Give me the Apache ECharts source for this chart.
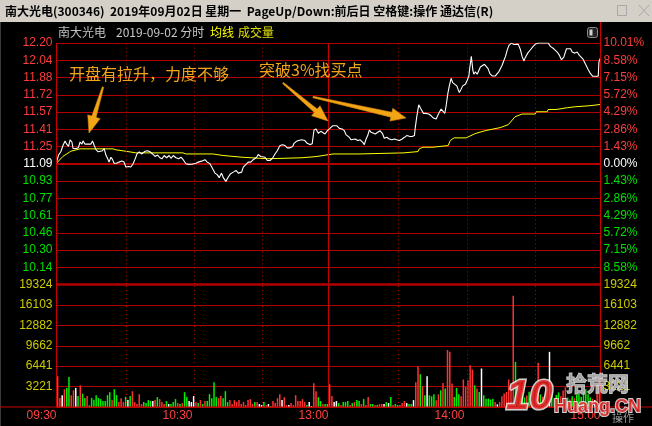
<!DOCTYPE html>
<html><head><meta charset="utf-8">
<script src="https://cdn.jsdelivr.net/npm/echarts/dist/echarts.min.js"></script>
<style>html,body{margin:0;padding:0;background:#000;}#c{width:652px;height:426px;}</style>
</head><body><div id="c"></div>
<script>
// ---------- data ----------
const prevClose = 11.09;
const priceTicks = ['9.98','10.14','10.30','10.46','10.61','10.77','10.93','11.09','11.25','11.41','11.57','11.72','11.88','12.04','12.20'];
const pctTicks = ['10.01%','8.58%','7.15%','5.72%','4.29%','2.86%','1.43%','0.00%','1.43%','2.86%','4.29%','5.72%','7.15%','8.58%','10.01%'];
const volTicks = ['0','3221','6441','9662','12882','16103','19324'];
const timeLabels = {0:'09:30',60:'10:30',120:'13:00',180:'14:00',240:'15:00'};
const gridMinutes = [30.7, 60.7, 90.7, 150.8, 181, 211];
const lunchMinute = 120;

const priceTimes = [0,0.9,1.9,2.9,3.8,4.5,5.3,6.0,6.8,7.3,8.1,8.8,9.7,10.4,11.2,11.7,12.6,13.7,14.4,15.1,15.9,16.6,17.4,18.4,19.2,20.3,21.0,21.8,22.5,23.2,24.0,24.7,25.4,26.5,27.6,28.8,29.8,30.6,31.8,32.8,33.8,34.7,35.5,36.5,37.5,38.2,39.1,40.2,41.2,42.4,43.5,44.6,45.6,46.5,47.5,48.6,49.7,50.5,51.5,52.7,53.9,54.9,55.9,57.1,58.3,59.7,61.5,62.5,64.0,65.5,66.5,67.7,68.9,69.9,70.9,71.8,72.8,73.6,74.7,75.8,76.8,78.0,79.2,80.2,81.7,82.4,83.6,84.6,85.7,86.8,87.5,88.3,89.0,90.1,90.9,92.0,93.0,94.2,95.4,96.4,97.4,98.6,99.8,100.8,101.8,103.0,104.2,104.8,105.7,106.7,108.2,109.6,110.6,111.8,112.8,113.6,114.5,115.5,116.6,117.4,118.5,119.5,120.4,121.9,123.6,124.8,126.0,127.0,127.7,128.5,129.2,129.9,130.7,131.8,132.9,134.0,135.1,135.8,136.6,137.3,138.0,138.8,139.5,140.7,141.7,142.7,143.9,144.6,145.7,146.8,147.9,149.1,150.1,151.3,152.5,153.5,154.5,155.7,156.9,157.9,158.3,158.9,159.8,160.8,161.9,163.0,164.2,165.3,166.3,167.5,168.5,169.7,170.4,171.3,171.9,172.6,173.3,174.1,174.8,175.5,176.6,177.7,178.5,179.2,180.4,181.2,181.9,182.3,183.0,183.7,184.1,184.8,185.6,186.3,187.0,187.8,188.8,189.5,190.4,191.2,192.2,193.6,194.4,195.1,195.8,196.6,197.4,198.1,198.8,199.6,200.7,201.8,202.5,203.7,204.7,205.4,206.2,206.9,207.9,209.1,210.3,211.3,212.8,215.0,216.9,217.9,219.4,220.9,221.9,222.8,223.8,225.0,226.8,227.5,228.7,229.7,230.7,232.2,233.4,234.6,235.6,236.6,237.8,239.0,239.3,240];
const prices = [11.105,11.17,11.20,11.26,11.30,11.27,11.25,11.31,11.29,11.23,11.24,11.23,11.24,11.29,11.27,11.30,11.27,11.27,11.28,11.27,11.30,11.26,11.22,11.20,11.19,11.21,11.23,11.17,11.14,11.105,11.15,11.13,11.095,11.095,11.105,11.115,11.105,11.06,11.065,11.06,11.09,11.135,11.18,11.20,11.18,11.19,11.205,11.21,11.20,11.18,11.157,11.17,11.145,11.135,11.166,11.145,11.166,11.14,11.166,11.145,11.135,11.15,11.127,11.09,11.084,11.085,11.095,11.105,11.114,11.127,11.105,11.09,11.044,11.004,10.99,10.962,11.004,10.962,10.928,10.968,10.999,11.013,11.029,11.004,11.013,11.059,11.084,11.105,11.105,11.127,11.127,11.15,11.175,11.157,11.157,11.15,11.12,11.12,11.145,11.18,11.21,11.257,11.264,11.257,11.236,11.236,11.248,11.278,11.294,11.303,11.31,11.303,11.278,11.266,11.273,11.40,11.41,11.37,11.388,11.379,11.364,11.394,11.41,11.44,11.44,11.415,11.41,11.394,11.358,11.37,11.333,11.31,11.324,11.318,11.303,11.31,11.287,11.266,11.318,11.349,11.40,11.379,11.394,11.364,11.379,11.394,11.364,11.324,11.333,11.318,11.31,11.318,11.31,11.303,11.318,11.333,11.349,11.342,11.34,11.349,11.425,11.516,11.632,11.593,11.553,11.553,11.547,11.531,11.51,11.501,11.547,11.593,11.577,11.553,11.623,11.73,11.806,11.876,11.836,11.851,11.806,11.744,11.776,11.806,11.82,11.858,11.894,11.964,12.077,11.949,11.913,11.934,11.913,11.918,11.979,11.995,12.004,11.986,11.964,11.918,11.897,11.897,11.904,11.934,11.964,11.995,12.041,12.077,12.132,12.178,12.199,12.187,12.19,12.19,12.138,12.077,12.034,12.07,12.107,12.138,12.169,12.19,12.20,12.20,12.20,12.169,12.147,12.117,12.086,12.046,12.07,12.147,12.147,12.117,12.107,12.117,12.086,12.055,12.004,11.955,11.918,11.894,11.894,11.894,12.025,12.064];

const avgTimes = [0,2.8,6.3,10.4,24.9,26.2,30.6,35.0,55.8,57.1,69.0,69.5,73.4,73.9,81.8,82.3,93.3,93.7,108.3,108.8,114.9,115.4,122,133.5,133.9,153.3,153.8,159.5,160,161.7,166.1,166.6,172.8,173.7,175.4,180.7,184.7,189.1,195.7,199.3,202.3,205.4,211.2,211.6,216.5,216.9,220.4,220.9,225.3,225.7,228.8,229.3,235,235.4,240];
const avgPrices = [11.095,11.157,11.205,11.227,11.227,11.218,11.205,11.19,11.19,11.18,11.18,11.166,11.166,11.15,11.15,11.136,11.136,11.145,11.145,11.157,11.157,11.172,11.18,11.18,11.19,11.19,11.202,11.202,11.227,11.242,11.242,11.257,11.257,11.303,11.328,11.328,11.367,11.394,11.422,11.449,11.522,11.547,11.547,11.568,11.568,11.589,11.589,11.605,11.605,11.614,11.614,11.623,11.623,11.635,11.635];

const volumes = [
 4860,1430,1850,2800,3010,4750,1850,2640,3010,1740,3430,2110,1430,1740,260,1430,1160,1850,1430,
 1250,940,940,1870,2340,1090,2800,1870,780,1400,
 780,1610,1090,1720,2500,780,470,2030,470,780,
 620,1090,940,940,1090,1560,1250,780,470,940,
 470,470,780,1250,620,470,620,2340,1560,940,
 780,1720,780,620,1090,470,940,940,2030,1400,
 3900,1560,1400,1720,1400,2500,780,1090,470,1090,
 780,1090,470,780,310,1090,1250,470,780,780,
 470,310,780,310,470,160,940,620,1400,2030,
 1090,1560,310,310,620,310,1870,940,940,1250,
 780,310,780,160,3740,2500,1560,940,470,470,
 470,3590,1720,780,940,620,310,780,780,940,
 310,620,780,1090,940,470,1250,310,1560,470,
 470,310,310,470,470,470,780,620,1560,310,
 470,310,310,620,940,620,470,470,1090,3900,
 6400,
 5170,3270,1850,4860,1850,1690,2000,1060,2000,2640,
 3800,2900,8980,8710,3700,1580,3010,2000,1690,4330,
 3170,4220,6600,5910,3430,2900,2380,6070,1850,1320,
 1320,1160,1320,790,420,790,1690,2110,2380,4330,
 3430,17530,7130,
 3000,4000,2600,1500,1800,2400,1900,2800,3500,7000,
 2000,1600,1800,2200,8700,2500,1400,1900,2300,1700,
 2600,3100,1500,1200,1700,1400,1900,2100,1600,2400,
 2800,2000,1500,1300,1100,3600,4500];
const volDir = 'rrwrggrrwgrggrggggg' + 'gggggrggrr' + 'rgwgrrrrrg' + 'gggwrgrrrg' + 'wgggrgrggw' +
 'wwrgrgrggg' + 'ggrrgggrrr' + 'rrrrrrrrgr' + 'wwgrwgrrrr' + 'wrrwrrrrrr' + 'rgwwrrggrg' +
 'grrwwgrggg' + 'rgrggrgrrg' + 'grgrrwgwgr' + 'ggrrrwggwr' + 'r' +
 'grgwgggrrg' + 'rgrrrgggrr' + 'rrrrgrgwgg' + 'gggrwrrrrr' + 'rrg' +
 'rrggrgrrrr' + 'grgrwgrggr' + 'rrgrgrgggg' + 'gggrwrr';

// ---------- chart ----------
const FONT = "'Liberation Sans', 'Noto Sans CJK SC', sans-serif";
const CJK = "'Noto Sans CJK SC', 'Liberation Sans', sans-serif";
const RED = '#ff3c3c', GREEN = '#00e000', YEL = '#cccc00', GRID = '#b00000', FRAME = '#c80000';
const dirColor = {r:'#ff3232', g:'#00f000', w:'#ffffff'};
const pct = p => (p / prevClose - 1) * 100;
const pIdx = v => Math.round((v + 10.01) / 1.43);
const lblColor = v => (v > 0.001 ? RED : (v < -0.001 ? GREEN : '#ffffff'));
const VSTEP = 19324 / 6;

function arrow(tx, ty, hx, hy, w0, w1, hl, hw) {
  const dx = hx - tx, dy = hy - ty, L = Math.hypot(dx, dy);
  const ux = dx / L, uy = dy / L, nx = -uy, ny = ux;
  const bx = hx - ux * hl, by = hy - uy * hl;
  const pts = [
    [tx + nx * w0 / 2, ty + ny * w0 / 2], [bx + nx * w1 / 2, by + ny * w1 / 2], [bx + nx * hw, by + ny * hw],
    [hx, hy], [bx - nx * hw, by - ny * hw], [bx - nx * w1 / 2, by - ny * w1 / 2], [tx - nx * w0 / 2, ty - ny * w0 / 2]
  ];
  return {type:'polygon', z:50, shape:{points:pts}, style:{fill:'#f2a516', stroke:'#d88a08', lineWidth:0.6}};
}
const vMarks = gridMinutes.map(m => ({xAxis:m}));
const mlBase = {silent:true, symbol:'none', label:{show:false}, animation:false,
  lineStyle:{color:GRID, type:[1,3], width:1}};

const chart = echarts.init(document.getElementById('c'), null, {renderer:'canvas'});
chart.setOption({
  backgroundColor:'#000',
  animation:false,
  grid:[
    {left:56.5, right:51.5, top:43, height:241.5},
    {left:56.5, right:51.5, top:284.5, height:122.5}
  ],
  xAxis:[
    {gridIndex:0, type:'value', min:0, max:240, interval:30, show:false},
    {gridIndex:1, type:'value', min:0, max:240, interval:60,
      axisLine:{show:false}, axisTick:{show:false}, splitLine:{show:false},
      axisLabel:{formatter:v => timeLabels[v] || '', align:'right', color:'#ff4040', fontSize:12, fontFamily:FONT, margin:3, showMinLabel:true, showMaxLabel:true}}
  ],
  yAxis:[
    {gridIndex:0, type:'value', min:-10.01, max:10.01, interval:1.43, position:'left',
      axisLine:{show:false}, axisTick:{show:false},
      splitLine:{show:true, lineStyle:{color:GRID, width:1}},
      axisLabel:{showMinLabel:false, formatter:v => priceTicks[pIdx(v)], color:lblColor, fontSize:12, fontFamily:FONT, margin:4}},
    {gridIndex:0, type:'value', min:-10.01, max:10.01, interval:1.43, position:'right',
      axisLine:{show:false}, axisTick:{show:false}, splitLine:{show:false},
      axisLabel:{showMinLabel:false, formatter:v => pctTicks[pIdx(v)], color:lblColor, fontSize:12, fontFamily:FONT, margin:3}},
    {gridIndex:1, type:'value', min:0, max:19324, interval:VSTEP, position:'left',
      axisLine:{show:false}, axisTick:{show:false},
      splitLine:{show:true, lineStyle:{color:GRID, width:1}},
      axisLabel:{showMinLabel:false, formatter:v => volTicks[Math.round(v / VSTEP)], color:YEL, fontSize:12, fontFamily:FONT, margin:4}},
    {gridIndex:1, type:'value', min:0, max:19324, interval:VSTEP, position:'right',
      axisLine:{show:false}, axisTick:{show:false}, splitLine:{show:false},
      axisLabel:{showMinLabel:false, formatter:v => volTicks[Math.round(v / VSTEP)], color:YEL, fontSize:12, fontFamily:FONT, margin:3}}
  ],
  series:[
    {type:'line', xAxisIndex:0, yAxisIndex:0, z:4, showSymbol:false, silent:true,
      lineStyle:{color:'#ffff00', width:1},
      data:avgTimes.map((t, i) => [t, pct(avgPrices[i])])},
    {type:'line', xAxisIndex:0, yAxisIndex:0, z:5, showSymbol:false, silent:true,
      lineStyle:{color:'#ffffff', width:1.1},
      data:priceTimes.map((t, i) => [t, pct(prices[i])]),
      markLine:Object.assign({}, mlBase, {data:vMarks.concat([
        {xAxis:lunchMinute, lineStyle:{type:'solid', width:1, color:FRAME}},
        {yAxis:0, lineStyle:{type:'solid', width:2, color:GRID}}
      ])})},
    {type:'bar', xAxisIndex:1, yAxisIndex:2, z:3, barWidth:1.5, silent:true,
      data:volumes.map((v, k) => ({value:[k + 0.5, v], itemStyle:{color:dirColor[volDir[k]]}})),
      markLine:Object.assign({}, mlBase, {data:vMarks.concat([
        {xAxis:lunchMinute, lineStyle:{type:'solid', width:1, color:FRAME}},
        {yAxis:19324, lineStyle:{type:'solid', width:2.5, color:GRID}}
      ])})}
  ],
  graphic:[
    {type:'rect', z:1, shape:{x:0, y:0, width:652, height:22}, style:{fill:'#d4d0c8'}},
    {type:'text', z:2, x:5, y:11, style:{text:'南大光电(300346)  2019年09月02日 星期一  PageUp/Down:前后日 空格键:操作 通达信(R)', fill:'#000', font:'bold 12px ' + CJK, textVerticalAlign:'middle'}},
    {type:'rect', z:2, shape:{x:617.5, y:5.5, width:9, height:10}, style:{fill:'none', stroke:'#a8a8a8', lineWidth:1}},
    {type:'line', z:2, shape:{x1:639, y1:5, x2:649, y2:16}, style:{stroke:'#a8a8a8', lineWidth:1}},
    {type:'line', z:2, shape:{x1:649, y1:5, x2:639, y2:16}, style:{stroke:'#a8a8a8', lineWidth:1}},
    {type:'line', z:2, shape:{x1:0.5, y1:22, x2:0.5, y2:426}, style:{stroke:'#3a3a3a', lineWidth:1}},
    {type:'text', z:2, x:58, y:32, style:{text:'南大光电', fill:'#c0c0c0', font:'12px ' + CJK, textVerticalAlign:'middle'}},
    {type:'text', z:2, x:116, y:32, style:{text:'2019-09-02 分时', fill:'#c8c8c8', font:'12px ' + CJK, textVerticalAlign:'middle'}},
    {type:'text', z:2, x:210, y:32, style:{text:'均线', fill:'#ffff00', font:'12px ' + CJK, textVerticalAlign:'middle'}},
    {type:'text', z:2, x:238, y:32, style:{text:'成交量', fill:'#e0e000', font:'12px ' + CJK, textVerticalAlign:'middle'}},
    {type:'rect', z:2, shape:{x:587.5, y:27.5, width:10, height:10, r:2}, style:{fill:'#222', stroke:'#8a8a8a', lineWidth:1}},
    {type:'rect', z:2, shape:{x:589.5, y:29.5, width:3, height:6}, style:{fill:'#d0d0d0'}},
    {type:'line', z:20, shape:{x1:56.5, y1:43, x2:56.5, y2:407}, style:{stroke:FRAME, lineWidth:1}},
    {type:'line', z:20, shape:{x1:600.5, y1:22, x2:600.5, y2:407}, style:{stroke:FRAME, lineWidth:1}},
    {type:'line', z:20, shape:{x1:0, y1:407, x2:652, y2:407}, style:{stroke:FRAME, lineWidth:1}},
    {type:'text', z:50, x:69, y:74, style:{text:'开盘有拉升，力度不够', fill:'#f2a51a', font:'16px ' + CJK, textVerticalAlign:'middle'}},
    {type:'text', z:50, x:259, y:70, style:{text:'突破3%找买点', fill:'#f2a51a', font:'16px ' + CJK, textVerticalAlign:'middle'}},
    arrow(103, 87, 89, 133, 1.5, 4.5, 17, 6.5),
    arrow(283, 83, 328, 121, 1.5, 4.5, 16, 6.5),
    arrow(313, 97, 406, 118, 1.5, 5, 15, 6.5),
    {type:'text', z:60, x:506, y:397, style:{text:'10', fill:'#e01c1c', stroke:'#f2f2f2', lineWidth:3, opacity:0.85, font:'italic bold 42px ' + FONT, textVerticalAlign:'middle'}},
    {type:'text', z:60, x:566, y:383, style:{text:'拾荒网', fill:'#bdbdbd', stroke:'#eeeeee', lineWidth:1, opacity:0.85, font:'bold 21px ' + CJK, textVerticalAlign:'middle'}},
    {type:'text', z:60, x:554, y:407, style:{text:'Huang.CN', fill:'#e01c1c', stroke:'#f2f2f2', lineWidth:2, opacity:0.85, font:'bold 18px ' + FONT, textVerticalAlign:'middle'}},
    {type:'text', z:60, x:612, y:418, style:{text:'操作', fill:'#9a9a9a', font:'11px ' + CJK, textVerticalAlign:'middle'}}
  ]
});
</script>
</body></html>
